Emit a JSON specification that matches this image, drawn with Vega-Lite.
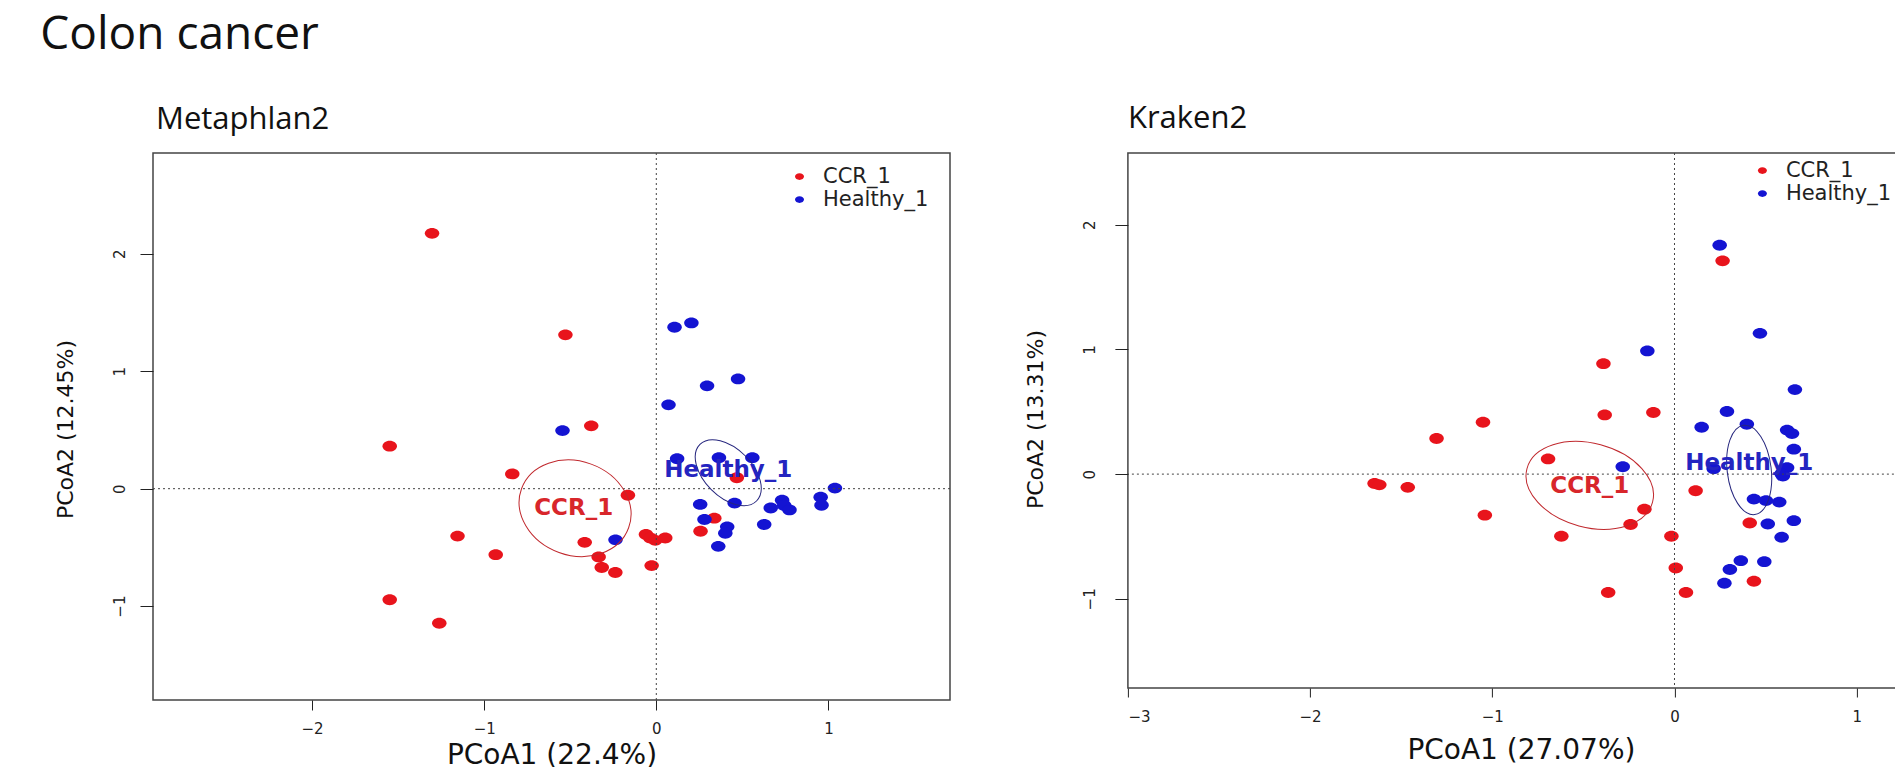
{
  "$schema": "https://vega.github.io/schema/vega-lite/v6.json",
  "background": "white",
  "padding": {"left": 40, "top": 12, "right": 0, "bottom": 0},
  "title": {"text": "Colon cancer", "anchor": "start", "frame": "bounds", "font": "Open Sans", "fontSize": 46, "fontWeight": "normal", "color": "#111111", "baseline": "alphabetic", "offset": 6.4, "dx": -12.9},
  "config": {
    "view": {"stroke": "#444444", "strokeWidth": 1.5},
    "axis": {"grid": false, "domain": false, "tickColor": "#222222", "tickWidth": 1, "labelColor": "#222222", "labelFont": "DejaVu Sans", "labelFontSize": 15, "titleFont": "DejaVu Sans", "titleFontWeight": "normal", "titleColor": "#111111", "format": "d"},
    "legend": {"title": null, "labelFont": "DejaVu Sans", "labelFontSize": 21, "labelColor": "#222222", "symbolSize": 81, "labelOffset": 13, "rowPadding": 1, "symbolStrokeWidth": 0, "symbolType": "M-1,0C-1,-0.4142,-0.5523,-0.75,0,-0.75C0.5523,-0.75,1,-0.4142,1,0C1,0.4142,0.5523,0.75,0,0.75C-0.5523,0.75,-1,0.4142,-1,0Z"}
  },
  "spacing": 71.9,
  "resolve": {"scale": {"x": "independent", "y": "independent", "color": "independent"}, "legend": {"color": "independent"}},
  "datasets": {
    "m_pts": [
      {"group": "CCR_1", "x": -1.303, "y": 2.175}, {"group": "CCR_1", "x": -0.528, "y": 1.31}, {"group": "CCR_1", "x": -0.378, "y": 0.535},
      {"group": "CCR_1", "x": -1.549, "y": 0.362}, {"group": "CCR_1", "x": -0.837, "y": 0.126}, {"group": "CCR_1", "x": -0.165, "y": -0.056},
      {"group": "CCR_1", "x": -1.155, "y": -0.404}, {"group": "CCR_1", "x": -0.933, "y": -0.562}, {"group": "CCR_1", "x": -0.416, "y": -0.457},
      {"group": "CCR_1", "x": -0.335, "y": -0.582}, {"group": "CCR_1", "x": -0.317, "y": -0.671}, {"group": "CCR_1", "x": -0.238, "y": -0.714},
      {"group": "CCR_1", "x": -0.06, "y": -0.39}, {"group": "CCR_1", "x": -0.035, "y": -0.42}, {"group": "CCR_1", "x": -0.006, "y": -0.44},
      {"group": "CCR_1", "x": 0.052, "y": -0.42}, {"group": "CCR_1", "x": -0.027, "y": -0.655}, {"group": "CCR_1", "x": -1.549, "y": -0.946},
      {"group": "CCR_1", "x": -1.261, "y": -1.146}, {"group": "CCR_1", "x": 0.257, "y": -0.363}, {"group": "CCR_1", "x": 0.337, "y": -0.251},
      {"group": "CCR_1", "x": 0.468, "y": 0.093},
      {"group": "Healthy_1", "x": 0.106, "y": 1.375}, {"group": "Healthy_1", "x": 0.204, "y": 1.412}, {"group": "Healthy_1", "x": 0.475, "y": 0.935},
      {"group": "Healthy_1", "x": 0.295, "y": 0.876}, {"group": "Healthy_1", "x": 0.071, "y": 0.714}, {"group": "Healthy_1", "x": -0.545, "y": 0.495},
      {"group": "Healthy_1", "x": 0.121, "y": 0.255}, {"group": "Healthy_1", "x": 0.364, "y": 0.264}, {"group": "Healthy_1", "x": 0.558, "y": 0.263},
      {"group": "Healthy_1", "x": 0.455, "y": -0.123}, {"group": "Healthy_1", "x": 0.255, "y": -0.134}, {"group": "Healthy_1", "x": 0.28, "y": -0.262},
      {"group": "Healthy_1", "x": 0.412, "y": -0.325}, {"group": "Healthy_1", "x": 0.401, "y": -0.38}, {"group": "Healthy_1", "x": 0.36, "y": -0.491},
      {"group": "Healthy_1", "x": 0.627, "y": -0.305}, {"group": "Healthy_1", "x": 0.665, "y": -0.165}, {"group": "Healthy_1", "x": 0.731, "y": -0.099},
      {"group": "Healthy_1", "x": 0.743, "y": -0.143}, {"group": "Healthy_1", "x": 0.774, "y": -0.181}, {"group": "Healthy_1", "x": 0.955, "y": -0.072},
      {"group": "Healthy_1", "x": 0.96, "y": -0.141}, {"group": "Healthy_1", "x": 1.038, "y": 0.005}, {"group": "Healthy_1", "x": -0.237, "y": -0.436}
    ],
    "k_pts": [
      {"group": "CCR_1", "x": 0.264, "y": 1.71}, {"group": "CCR_1", "x": -0.39, "y": 0.886}, {"group": "CCR_1", "x": -0.383, "y": 0.475},
      {"group": "CCR_1", "x": -0.116, "y": 0.494}, {"group": "CCR_1", "x": -1.051, "y": 0.416}, {"group": "CCR_1", "x": -1.306, "y": 0.286},
      {"group": "CCR_1", "x": -0.694, "y": 0.122}, {"group": "CCR_1", "x": -1.646, "y": -0.075}, {"group": "CCR_1", "x": -1.62, "y": -0.086},
      {"group": "CCR_1", "x": -1.464, "y": -0.106}, {"group": "CCR_1", "x": -1.041, "y": -0.329}, {"group": "CCR_1", "x": 0.116, "y": -0.133},
      {"group": "CCR_1", "x": -0.165, "y": -0.282}, {"group": "CCR_1", "x": -0.241, "y": -0.404}, {"group": "CCR_1", "x": -0.621, "y": -0.498},
      {"group": "CCR_1", "x": -0.017, "y": -0.498}, {"group": "CCR_1", "x": 0.413, "y": -0.392}, {"group": "CCR_1", "x": 0.007, "y": -0.753},
      {"group": "CCR_1", "x": 0.436, "y": -0.859}, {"group": "CCR_1", "x": -0.364, "y": -0.949}, {"group": "CCR_1", "x": 0.063, "y": -0.949},
      {"group": "Healthy_1", "x": 0.248, "y": 1.835}, {"group": "Healthy_1", "x": 0.469, "y": 1.129}, {"group": "Healthy_1", "x": -0.149, "y": 0.988},
      {"group": "Healthy_1", "x": 0.661, "y": 0.678}, {"group": "Healthy_1", "x": 0.288, "y": 0.502}, {"group": "Healthy_1", "x": 0.397, "y": 0.4},
      {"group": "Healthy_1", "x": 0.149, "y": 0.376}, {"group": "Healthy_1", "x": 0.618, "y": 0.353}, {"group": "Healthy_1", "x": 0.645, "y": 0.325},
      {"group": "Healthy_1", "x": 0.655, "y": 0.2}, {"group": "Healthy_1", "x": -0.284, "y": 0.059}, {"group": "Healthy_1", "x": 0.215, "y": 0.043},
      {"group": "Healthy_1", "x": 0.618, "y": 0.051}, {"group": "Healthy_1", "x": 0.588, "y": 0.004}, {"group": "Healthy_1", "x": 0.595, "y": -0.016},
      {"group": "Healthy_1", "x": 0.436, "y": -0.2}, {"group": "Healthy_1", "x": 0.502, "y": -0.212}, {"group": "Healthy_1", "x": 0.575, "y": -0.224},
      {"group": "Healthy_1", "x": 0.655, "y": -0.373}, {"group": "Healthy_1", "x": 0.512, "y": -0.4}, {"group": "Healthy_1", "x": 0.588, "y": -0.506},
      {"group": "Healthy_1", "x": 0.364, "y": -0.694}, {"group": "Healthy_1", "x": 0.493, "y": -0.702}, {"group": "Healthy_1", "x": 0.304, "y": -0.765},
      {"group": "Healthy_1", "x": 0.274, "y": -0.875}
    ],
    "m_ctr": [
      {"group": "CCR_1", "x": -0.472, "y": -0.167, "lx": -0.48, "ly": -0.165},
      {"group": "Healthy_1", "x": 0.418, "y": 0.136, "lx": 0.418, "ly": 0.157}
    ],
    "k_ctr": [
      {"group": "CCR_1", "x": -0.465, "y": -0.09, "lx": -0.465, "ly": -0.094},
      {"group": "Healthy_1", "x": 0.41, "y": 0.034, "lx": 0.41, "ly": 0.09}
    ]
  },
  "hconcat": [
    {
      "width": 797,
      "height": 547,
      "title": {"text": "Metaphlan2", "anchor": "start", "frame": "group", "font": "Open Sans", "fontSize": 31, "fontWeight": "normal", "color": "#111111", "baseline": "alphabetic", "offset": -7, "dx": 3},
      "layer": [
        {
          "data": {"name": "m_pts"},
          "mark": {"type": "point", "filled": true, "opacity": 1, "size": 210, "shape": "M-1,0C-1,-0.4142,-0.5523,-0.75,0,-0.75C0.5523,-0.75,1,-0.4142,1,0C1,0.4142,0.5523,0.75,0,0.75C-0.5523,0.75,-1,0.4142,-1,0Z"},
          "encoding": {
            "x": {"field": "x", "type": "quantitative", "scale": {"domain": [-2.9245, 1.7066], "nice": false, "zero": false},
                  "axis": {"title": "PCoA1 (22.4%)", "values": [-2, -1, 0, 1], "tickSize": 10, "labelPadding": 11, "titleFontSize": 28, "titleX": 398.5, "titleY": 63, "titleAlign": "center", "titleBaseline": "alphabetic"}},
            "y": {"field": "y", "type": "quantitative", "scale": {"domain": [-1.7998, 2.859], "nice": false, "zero": false},
                  "axis": {"title": "PCoA2 (12.45%)", "values": [-1, 0, 1, 2], "tickSize": 13, "labelAngle": -90, "labelAlign": "center", "labelBaseline": "alphabetic", "labelPadding": 16, "titleFontSize": 22, "titleAngle": -90, "titleX": -81, "titleY": 276, "titleAlign": "center", "titleBaseline": "alphabetic"}},
            "color": {"field": "group", "type": "nominal", "scale": {"domain": ["CCR_1", "Healthy_1"], "range": ["#e8141c", "#1414d2"]},
                      "legend": {"orient": "none", "legendX": 636, "legendY": 13}}
          }
        },
        {
          "data": {"values": [{}]},
          "mark": {"type": "rule", "strokeDash": [2, 3], "color": "#444444", "strokeWidth": 1},
          "encoding": {"x": {"datum": 0, "type": "quantitative"}}
        },
        {
          "data": {"values": [{}]},
          "mark": {"type": "rule", "strokeDash": [2, 3], "color": "#444444", "strokeWidth": 1},
          "encoding": {"y": {"datum": 0, "type": "quantitative"}}
        },
        {
          "data": {"name": "m_ctr"},
          "transform": [{"filter": "datum.group === 'CCR_1'"}],
          "mark": {"type": "point", "filled": false, "color": "#c0282d", "strokeWidth": 1, "opacity": 1, "size": 12996, "angle": 20, "shape": "M-1,0C-1,-0.4556,-0.5523,-0.825,0,-0.825C0.5523,-0.825,1,-0.4556,1,0C1,0.4556,0.5523,0.825,0,0.825C-0.5523,0.825,-1,0.4556,-1,0Z"},
          "encoding": {"x": {"field": "x", "type": "quantitative"}, "y": {"field": "y", "type": "quantitative"}}
        },
        {
          "data": {"name": "m_ctr"},
          "transform": [{"filter": "datum.group === 'Healthy_1'"}],
          "mark": {"type": "point", "filled": false, "color": "#26267e", "strokeWidth": 1, "opacity": 1, "size": 6400, "angle": 45, "shape": "M-1,0C-1,-0.3314,-0.5523,-0.6,0,-0.6C0.5523,-0.6,1,-0.3314,1,0C1,0.3314,0.5523,0.6,0,0.6C-0.5523,0.6,-1,0.3314,-1,0Z"},
          "encoding": {"x": {"field": "x", "type": "quantitative"}, "y": {"field": "y", "type": "quantitative"}}
        },
        {
          "data": {"name": "m_ctr"},
          "transform": [{"filter": "datum.group === 'CCR_1'"}],
          "mark": {"type": "text", "font": "DejaVu Sans", "fontWeight": "bold", "fontSize": 23, "align": "center", "baseline": "middle", "color": "#d8262b"},
          "encoding": {"x": {"field": "lx", "type": "quantitative"}, "y": {"field": "ly", "type": "quantitative"}, "text": {"field": "group"}}
        },
        {
          "data": {"name": "m_ctr"},
          "transform": [{"filter": "datum.group === 'Healthy_1'"}],
          "mark": {"type": "text", "font": "DejaVu Sans", "fontWeight": "bold", "fontSize": 23, "align": "center", "baseline": "middle", "color": "#2424c0"},
          "encoding": {"x": {"field": "lx", "type": "quantitative"}, "y": {"field": "ly", "type": "quantitative"}, "text": {"field": "group"}}
        }
      ]
    },
    {
      "width": 786,
      "height": 535,
      "title": {"text": "Kraken2", "anchor": "start", "frame": "group", "font": "Open Sans", "fontSize": 31, "fontWeight": "normal", "color": "#111111", "baseline": "alphabetic", "offset": -6},
      "layer": [
        {
          "data": {"name": "k_pts"},
          "mark": {"type": "point", "filled": true, "opacity": 1, "size": 210, "shape": "M-1,0C-1,-0.4142,-0.5523,-0.75,0,-0.75C0.5523,-0.75,1,-0.4142,1,0C1,0.4142,0.5523,0.75,0,0.75C-0.5523,0.75,-1,0.4142,-1,0Z"},
          "encoding": {
            "x": {"field": "x", "type": "quantitative", "scale": {"domain": [-3.0, 1.314], "nice": false, "zero": false},
                  "axis": {"title": "PCoA1 (27.07%)", "values": [-3, -2, -1, 0, 1], "tickSize": 9, "labelPadding": 12, "titleFontSize": 28, "titleX": 393, "titleY": 70, "titleAlign": "center", "titleBaseline": "alphabetic"}},
            "y": {"field": "y", "type": "quantitative", "scale": {"domain": [-1.715, 2.575], "nice": false, "zero": false},
                  "axis": {"title": "PCoA2 (13.31%)", "values": [-1, 0, 1, 2], "tickSize": 13, "labelAngle": -90, "labelAlign": "center", "labelBaseline": "alphabetic", "labelPadding": 20, "titleFontSize": 22, "titleAngle": -90, "titleX": -85, "titleY": 266, "titleAlign": "center", "titleBaseline": "alphabetic"}},
            "color": {"field": "group", "type": "nominal", "scale": {"domain": ["CCR_1", "Healthy_1"], "range": ["#e8141c", "#1414d2"]},
                      "legend": {"orient": "none", "legendX": 624, "legendY": 7}}
          }
        },
        {
          "data": {"values": [{}]},
          "mark": {"type": "rule", "strokeDash": [2, 3], "color": "#444444", "strokeWidth": 1},
          "encoding": {"x": {"datum": 0, "type": "quantitative"}}
        },
        {
          "data": {"values": [{}]},
          "mark": {"type": "rule", "strokeDash": [2, 3], "color": "#444444", "strokeWidth": 1},
          "encoding": {"y": {"datum": 0, "type": "quantitative"}}
        },
        {
          "data": {"name": "k_ctr"},
          "transform": [{"filter": "datum.group === 'CCR_1'"}],
          "mark": {"type": "point", "filled": false, "color": "#c0282d", "strokeWidth": 1, "opacity": 1, "size": 16900, "angle": 15, "shape": "M-1,0C-1,-0.3568,-0.5523,-0.646,0,-0.646C0.5523,-0.646,1,-0.3568,1,0C1,0.3568,0.5523,0.646,0,0.646C-0.5523,0.646,-1,0.3568,-1,0Z"},
          "encoding": {"x": {"field": "x", "type": "quantitative"}, "y": {"field": "y", "type": "quantitative"}}
        },
        {
          "data": {"name": "k_ctr"},
          "transform": [{"filter": "datum.group === 'Healthy_1'"}],
          "mark": {"type": "point", "filled": false, "color": "#26267e", "strokeWidth": 1, "opacity": 1, "size": 8100, "angle": 83, "shape": "M-1,0C-1,-0.2701,-0.5523,-0.489,0,-0.489C0.5523,-0.489,1,-0.2701,1,0C1,0.2701,0.5523,0.489,0,0.489C-0.5523,0.489,-1,0.2701,-1,0Z"},
          "encoding": {"x": {"field": "x", "type": "quantitative"}, "y": {"field": "y", "type": "quantitative"}}
        },
        {
          "data": {"name": "k_ctr"},
          "transform": [{"filter": "datum.group === 'CCR_1'"}],
          "mark": {"type": "text", "font": "DejaVu Sans", "fontWeight": "bold", "fontSize": 23, "align": "center", "baseline": "middle", "color": "#d8262b"},
          "encoding": {"x": {"field": "lx", "type": "quantitative"}, "y": {"field": "ly", "type": "quantitative"}, "text": {"field": "group"}}
        },
        {
          "data": {"name": "k_ctr"},
          "transform": [{"filter": "datum.group === 'Healthy_1'"}],
          "mark": {"type": "text", "font": "DejaVu Sans", "fontWeight": "bold", "fontSize": 23, "align": "center", "baseline": "middle", "color": "#2424c0"},
          "encoding": {"x": {"field": "lx", "type": "quantitative"}, "y": {"field": "ly", "type": "quantitative"}, "text": {"field": "group"}}
        }
      ]
    }
  ]
}
